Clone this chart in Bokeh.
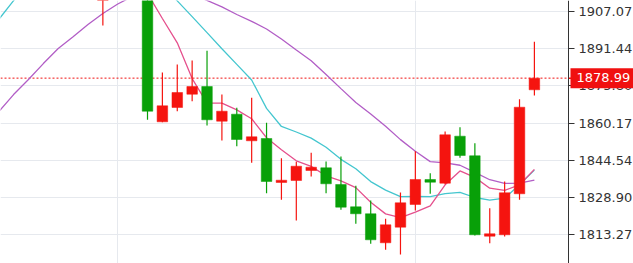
from bokeh.plotting import figure
from bokeh.models import (FixedTicker, PrintfTickFormatter, Span, Label,
                          ColumnDataSource, Range1d, BoxAnnotation)
from bokeh.embed import file_html
from bokeh.resources import INLINE

# ---- candles (index = trading-day position) ----
idx = [-3, 0, 1, 2, 3, 4, 5, 6, 7, 8, 9, 10, 11, 12, 13, 14, 15, 16, 17, 18,
       19, 20, 21, 22, 23, 24, 25, 26]
opens = [1914.0, 1913.0, 1860.68, 1866.68, 1872.25, 1875.48, 1860.93, 1863.87,
         1852.71, 1853.67, 1835.22, 1836.06, 1840.25, 1841.38, 1834.38, 1825.02,
         1822.09, 1809.92, 1816.47, 1825.99, 1836.47, 1834.92, 1854.64, 1846.42,
         1812.69, 1813.28, 1830.48, 1874.10]
highs = [1923.0, 1915.0, 1881.36, 1884.71, 1886.39, 1890.46, 1872.13, 1866.55,
         1870.74, 1860.26, 1845.41, 1843.90, 1847.67, 1844.02, 1846.12, 1833.83,
         1827.67, 1819.99, 1831.02, 1848.35, 1839.12, 1856.61, 1858.41, 1851.70,
         1824.44, 1835.64, 1870.16, 1894.23]
lows = [1901.07, 1861.52, 1860.50, 1865.12, 1869.32, 1859.13, 1852.83, 1850.44,
        1843.48, 1830.73, 1827.96, 1819.28, 1837.73, 1830.73, 1823.76, 1817.89,
        1809.50, 1806.99, 1805.02, 1823.47, 1830.48, 1834.50, 1845.58, 1813.00,
        1809.75, 1812.57, 1827.96, 1871.71]
closes = [1921.0, 1865.12, 1867.39, 1872.97, 1875.48, 1861.52, 1865.12, 1853.25,
          1854.39, 1835.64, 1836.18, 1842.05, 1841.63, 1834.67, 1824.86, 1822.09,
          1811.18, 1817.47, 1826.70, 1836.47, 1835.34, 1855.22, 1846.54, 1813.28,
          1813.70, 1830.90, 1866.80, 1878.99]

# ---- moving averages ----
ma5_idx = [0, 1, 2, 3, 4, 5, 6, 7, 8, 9, 10, 11, 12, 13, 14, 15, 16, 17, 18,
           19, 20, 21, 22, 23, 24, 25, 26]
ma5 = [1914.5, 1904.0, 1893.8, 1878.8, 1868.50, 1868.50, 1865.67, 1861.95,
       1853.98, 1848.92, 1844.30, 1841.98, 1838.03, 1835.88, 1833.06, 1826.89,
       1822.05, 1820.46, 1822.78, 1825.43, 1834.24, 1840.05, 1837.37, 1832.82,
       1831.93, 1834.24, 1840.73]

ma10_idx = [-10, -9, -8, -7, -6, -5, -4, -3, -2, -1, 0, 1, 2, 3, 4, 5, 6, 7, 8,
            9, 10, 11, 12, 13, 14, 15, 16, 17, 18, 19, 20, 21, 22, 23, 24, 25, 26]
ma10 = [1903.6, 1911.5, 1918.0, 1923.0, 1927.0, 1930.0, 1932.0, 1932.0, 1931.0,
        1928.0, 1924.0, 1918.0, 1911.4, 1904.8, 1898.1, 1891.3, 1884.75, 1878.2,
        1866.3, 1858.71, 1856.40, 1853.82, 1849.99, 1844.93, 1840.99, 1835.59,
        1832.02, 1829.25, 1829.33, 1829.25, 1830.56, 1831.05, 1828.92, 1827.80,
        1828.68, 1834.24, 1840.40]

ma20_idx = [-10, -9, -8, -7, -6, -5, -4, -3, -2, -1, 0, 1, 2, 3, 4, 5, 6, 7, 8,
            9, 10, 11, 12, 13, 14, 15, 16, 17, 18, 19, 20, 21, 22, 23, 24, 25, 26]
ma20 = [1864.9, 1872.1, 1878.4, 1885.1, 1891.4, 1896.4, 1901.5, 1906.1, 1910.1,
        1913.3, 1915.5, 1916.3, 1915.8, 1914.1, 1911.6, 1908.9, 1905.7, 1902.8,
        1899.6, 1895.4, 1890.8, 1886.3, 1880.5, 1874.6, 1868.8, 1863.9, 1858.8,
        1853.2, 1848.3, 1843.98, 1843.48, 1842.44, 1839.45, 1836.37, 1834.83,
        1834.92, 1836.21]

# ---- axis ticks ----
y_ticks = [1907.07, 1891.44, 1875.80, 1860.17, 1844.54, 1828.90, 1813.27]
x_grid_ticks = [-2, 18]
last_price = 1878.99

UP = "#f5140f"
DOWN = "#08a008"
TAG = "#f01010"

# plot geometry: candle spacing 14.88 px, candle 0 at 147 px, axis at 568 px
X0, X1, AXIS_X = -9.879, 32.66, 28.293
PX = (X1 - X0) / 633.0  # data units per pixel along x

colors = [UP if c >= o else DOWN for o, c in zip(opens, closes)]
src = ColumnDataSource(dict(
    x=idx, open=opens, high=highs, low=lows, close=closes,
    top=[max(o, c) for o, c in zip(opens, closes)],
    bottom=[min(o, c) for o, c in zip(opens, closes)],
    color=colors,
))

p = figure(width=633, height=263, min_border=0,
           x_range=Range1d(X0, X1), y_range=Range1d(1801.23, 1911.56),
           x_axis_location=None, y_axis_location="right",
           output_backend="svg", toolbar_location=None,
           background_fill_color="white", border_fill_color="white")
p.outline_line_color = None

ax = p.yaxis[0]
ax.fixed_location = AXIS_X
ax.ticker = FixedTicker(ticks=y_ticks)
ax.formatter = PrintfTickFormatter(format="%.2f")
ax.axis_line_color = "#333333"
ax.major_tick_line_color = "#333333"
ax.major_tick_out = 6
ax.major_tick_in = 0
ax.minor_tick_line_color = None
ax.major_label_standoff = 4
ax.major_label_text_font = "DejaVu Sans"
ax.major_label_text_font_size = "13px"
ax.major_label_text_color = "#333333"

for g in p.ygrid:
    g.ticker = FixedTicker(ticks=y_ticks)
    g.grid_line_color = "#e6e9ee"
    g.grid_line_width = 1
for g in p.xgrid:
    g.ticker = FixedTicker(ticks=x_grid_ticks)
    g.grid_line_color = "#e6e9ee"
    g.grid_line_width = 1

# last price dotted line (under the price-scale cover)
p.add_layout(Span(location=last_price, dimension="width", line_color=TAG,
                  line_dash="2 2", line_width=1, level="underlay"))
# white cover for the price-scale area
p.add_layout(BoxAnnotation(left=AXIS_X, fill_color="white", fill_alpha=1.0,
                           line_color=None, level="underlay"))

# moving averages
p.line(ma20_idx, ma20, line_color="#b25ec6", line_width=1.3)
p.line(ma10_idx, ma10, line_color="#44c6cf", line_width=1.3)
p.line(ma5_idx, ma5, line_color="#e5508d", line_width=1.3)

# candles
p.segment(x0="x", y0="low", x1="x", y1="high", line_color="color",
          line_width=1.2, source=src)
p.vbar(x="x", width=0.71, top="top", bottom="bottom", fill_color="color",
       line_color="color", line_width=0.5, source=src)

# red tick of the last price on the price scale
p.segment(x0=[AXIS_X], y0=[last_price], x1=[AXIS_X + 4 * PX], y1=[last_price],
          line_color=TAG, line_width=1.5)

# last price tag on the price scale
p.add_layout(Label(x=570, y=last_price, x_units="screen", y_units="data",
                   text="%.2f" % last_price, text_color="white",
                   text_font="DejaVu Sans", text_font_size="13px",
                   text_baseline="middle", text_align="left",
                   background_fill_color=TAG,
                   padding=dict(left=6, right=10, top=5, bottom=6)))

open("out.html", "w").write(file_html(p, INLINE))
